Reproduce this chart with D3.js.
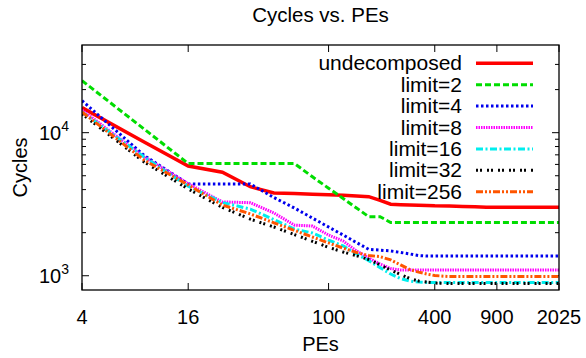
<!DOCTYPE html>
<html><head><meta charset="utf-8">
<script src="https://cdn.jsdelivr.net/npm/d3@7"></script>
<style>
body{margin:0;background:#fff;}
svg{display:block;font-family:"Liberation Sans",Arial,Helvetica,sans-serif;}
</style></head>
<body><svg id="c" width="586" height="358"></svg>
<script>
// ---- data ----
const title = "Cycles vs. PEs";
const xLabel = "PEs";
const yLabel = "Cycles";
const pes = [4,9,16,25,36,49,64,81,100,121,144,169,196,225,256,289,324,361,400,484,576,676,784,900,1089,1296,1600,2025];
const xTicks = [4,16,100,400,900,2025];
const yMajorTicks = [1000,10000];
const yMinorTicks = [2000,3000,4000,5000,6000,7000,8000,9000,20000,30000];
const seriesNames = ["undecomposed","limit=2","limit=4","limit=8","limit=16","limit=32","limit=256"];
const undecomposed = [14960,8610,5850,5290,4190,3790,3750,3715,3680,3650,3615,3570,3360,3160,3140,3120,3110,3100,3080,3070,3050,3030,3010,3010,3010,3010,3010,3010];
const limit2 = [23100,10600,6090,6090,6090,6090,6090,4915,4090,3470,2975,2585,2585,2355,2355,2355,2355,2355,2355,2355,2355,2355,2355,2355,2355,2355,2355,2355];
const limit4 = [16740,6930,4380,4380,4380,3520,2975,2530,2190,1925,1705,1530,1510,1490,1455,1420,1385,1373,1373,1373,1373,1373,1373,1373,1373,1373,1373,1373];
const limit8 = [14410,6760,4400,3280,3240,2745,2260,2225,1925,1750,1490,1330,1207,1123,1096,1096,1096,1096,1096,1096,1096,1096,1096,1096,1096,1096,1096,1096];
const limit16 = [13960,6760,4220,3250,2925,2470,2120,1990,1775,1615,1420,1275,1140,1028,956,918,903,896,896,896,896,896,896,896,896,896,896,896];
const limit32 = [13510,6240,4040,3000,2485,2190,1940,1740,1580,1465,1380,1300,1190,1096,1020,956,918,903,889,882,882,882,882,882,882,882,882,882];
const limit256 = [13960,6440,4310,3120,2705,2345,2075,1865,1695,1560,1455,1385,1360,1290,1190,1105,1060,1028,1003,987,987,987,987,987,987,987,987,987];
const seriesValues = [undecomposed,limit2,limit4,limit8,limit16,limit32,limit256];

// ---- styles ----
const colors = ["#ff0000","#00dd00","#0000ee","#ff00ff","#00eeee","#000000","#ff5500"];
const dashes = [null,"6,3","2.5,2.5","1.5,1","7,2.5,2,2.5","2,2,2,5","7,2,2,2,2,2"];
const widths = [3.5,3,3,3,3,3,3];

const L=82,R=559,T=45,B=290;
const svg = d3.select("#c");
const x = d3.scaleLog().domain([4,2025]).range([L,R]);
const y = d3.scaleLog().domain([795,41000]).range([B,T]);

// title
svg.append("text").attr("x",(L+R)/2).attr("y",22).attr("text-anchor","middle")
  .attr("font-size",20.5).text(title);

// ticks
const tg = svg.append("g").attr("stroke","#000").attr("stroke-width",1);
xTicks.forEach(t=>{
  const px=x(t);
  tg.append("line").attr("x1",px).attr("x2",px).attr("y1",B).attr("y2",B-7);
  tg.append("line").attr("x1",px).attr("x2",px).attr("y1",T).attr("y2",T+7);
});
yMajorTicks.forEach(t=>{
  const py=y(t);
  tg.append("line").attr("x1",L).attr("x2",L+7).attr("y1",py).attr("y2",py);
  tg.append("line").attr("x1",R).attr("x2",R-7).attr("y1",py).attr("y2",py);
});
yMinorTicks.forEach(t=>{
  const py=y(t);
  tg.append("line").attr("x1",L).attr("x2",L+4).attr("y1",py).attr("y2",py);
  tg.append("line").attr("x1",R).attr("x2",R-4).attr("y1",py).attr("y2",py);
});

// tick labels
xTicks.forEach(t=>{
  svg.append("text").attr("x",x(t)).attr("y",324).attr("text-anchor","middle")
    .attr("font-size",20).text(t);
});
yMajorTicks.forEach(t=>{
  const e = Math.round(Math.log10(t));
  const tx = svg.append("text").attr("x",69).attr("y",y(t)+7).attr("text-anchor","end").attr("font-size",20);
  tx.append("tspan").text("10");
  tx.append("tspan").attr("font-size",14).attr("dy",-9).text(e);
});

// axis labels
svg.append("text").attr("x",(L+R)/2).attr("y",351).attr("text-anchor","middle").attr("font-size",20).text(xLabel);
svg.append("text").attr("transform",`translate(27,${(T+B)/2}) rotate(-90)`).attr("text-anchor","middle").attr("font-size",20).text(yLabel);

// clip
svg.append("clipPath").attr("id","clip").append("rect").attr("x",L).attr("y",T).attr("width",R-L).attr("height",B-T);

// lines
const line = d3.line().x(d=>x(d[0])).y(d=>y(d[1]));
const lg = svg.append("g").attr("clip-path","url(#clip)");
seriesValues.forEach((vals,i)=>{
  const data = pes.map((p,j)=>[p,vals[j]]);
  lg.append("path").datum(data).attr("d",line).attr("fill","none")
    .attr("stroke",colors[i]).attr("stroke-width",widths[i])
    .attr("stroke-dasharray",dashes[i]).attr("stroke-linejoin","miter");
});

// legend
const legY0=63.3, legDy=21.4;
seriesNames.forEach((n,i)=>{
  const cy = legY0+i*legDy;
  svg.append("text").attr("x",462).attr("y",cy+7).attr("text-anchor","end").attr("font-size",21).text(n);
  svg.append("line").attr("x1",476).attr("x2",533).attr("y1",cy).attr("y2",cy)
    .attr("stroke",colors[i]).attr("stroke-width",widths[i]).attr("stroke-dasharray",dashes[i]);
});

// frame
svg.append("rect").attr("x",L).attr("y",T).attr("width",R-L).attr("height",B-T)
  .attr("fill","none").attr("stroke","#000").attr("stroke-width",1.3);
</script></body></html>
